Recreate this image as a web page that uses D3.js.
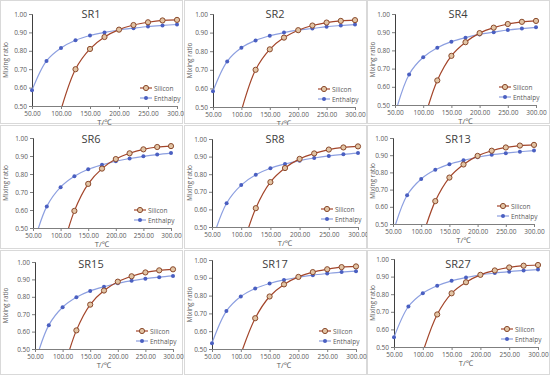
<!DOCTYPE html>
<html><head><meta charset="utf-8">
<script src="https://cdn.jsdelivr.net/npm/d3@7"></script>
<style>body{margin:0;background:#fff}svg{display:block}</style>
</head><body>
<script>
// ---- data ----
const panelNames = ["SR1","SR2","SR4","SR6","SR8","SR13","SR15","SR17","SR27"];
const siliconT = [100,125,150,175,200,225,250,275,300];
const enthalpyT = [50,75,100,125,150,175,200,225,250,275,300];
const silicon = {
  SR1:  [0.48,0.700,0.810,0.875,0.915,0.940,0.955,0.965,0.968],
  SR2:  [0.48,0.700,0.810,0.873,0.913,0.938,0.954,0.963,0.967],
  SR4:  [0.40,0.635,0.770,0.845,0.895,0.925,0.945,0.957,0.962],
  SR6:  [0.34,0.595,0.745,0.830,0.883,0.915,0.937,0.950,0.955],
  SR8:  [0.36,0.607,0.755,0.835,0.887,0.918,0.940,0.952,0.958],
  SR13: [0.40,0.633,0.770,0.846,0.896,0.926,0.945,0.956,0.960],
  SR15: [0.36,0.607,0.755,0.836,0.887,0.918,0.940,0.952,0.958],
  SR17: [0.47,0.673,0.795,0.863,0.905,0.932,0.948,0.960,0.964],
  SR27: [0.47,0.685,0.805,0.868,0.910,0.935,0.952,0.962,0.966]
};
const enthalpy = {
  SR1:  [0.585,0.745,0.815,0.857,0.883,0.900,0.913,0.923,0.932,0.938,0.943],
  SR2:  [0.585,0.745,0.818,0.858,0.883,0.900,0.913,0.922,0.932,0.938,0.943],
  SR4:  [0.45,0.668,0.762,0.815,0.848,0.870,0.888,0.900,0.912,0.920,0.927],
  SR6:  [0.40,0.620,0.727,0.787,0.826,0.851,0.871,0.886,0.898,0.908,0.916],
  SR8:  [0.42,0.635,0.738,0.797,0.834,0.858,0.877,0.892,0.904,0.913,0.920],
  SR13: [0.45,0.667,0.762,0.815,0.848,0.870,0.888,0.902,0.912,0.920,0.927],
  SR15: [0.42,0.637,0.740,0.797,0.834,0.858,0.878,0.892,0.904,0.913,0.920],
  SR17: [0.533,0.713,0.795,0.840,0.868,0.888,0.903,0.915,0.924,0.932,0.937],
  SR27: [0.555,0.730,0.806,0.848,0.876,0.895,0.910,0.920,0.928,0.935,0.940]
};
const xTicks = [50,100,150,200,250,300];
const yTicks = [0.5,0.6,0.7,0.8,0.9,1.0];
const seriesNames = ["Silicon","Enthalpy"];

// ---- layout (panel frame + plot rect) ----
const frames = [
  [0,0,182,123],[184,0,182,123],[367,0,182,123],
  [0,125,182,123],[184,125,182,123],[367,125,182,123],
  [0,250,182,124],[184,250,182,124],[367,250,182,124]
];
const plots = [ // left, top, right, bottom (absolute)
  [32,14,177,106],[213,14,355,107],[395,14,536,105],
  [33,138,171,228],[212,139,358,227],[393,138,534,224],
  [35,262,173,349],[212,260,356,349],[394,259,538,347]
];

const W=550,H=375;
const svg=d3.select("body").append("svg").attr("width",W).attr("height",H);
const font="'Open Sans', 'Noto Sans', sans-serif";
const silLine="#a3452a", silFill="#e2c4a4", silStroke="#8a4a2c";
const entLine="#8c9fe0", entDot="#4a5fc1";
const axisCol="#7f7f7f", textCol="#595959";

panelNames.forEach((name,i)=>{
  const [fx,fy,fw,fh]=frames[i];
  const [l,t,r,b]=plots[i];
  const g=svg.append("g");
  g.append("rect").attr("x",fx+0.5).attr("y",fy+0.5).attr("width",fw).attr("height",fh)
    .attr("fill","#fff").attr("stroke","#d9d9d9").attr("stroke-width",1);
  const x=d3.scaleLinear().domain([50,300]).range([l,r]);
  const y=d3.scaleLinear().domain([0.5,1.0]).range([b,t]);
  const clipId="clip"+i;
  g.append("clipPath").attr("id",clipId).append("rect")
    .attr("x",l-4).attr("y",t-4).attr("width",r-l+8).attr("height",b-t+4);

  // axes
  const ya=g.append("g").attr("transform",`translate(${l},0)`)
    .call(d3.axisLeft(y).tickValues(yTicks).tickFormat(d3.format(".2f")).tickSize(3).tickPadding(2));
  const xa=g.append("g").attr("transform",`translate(0,${b})`)
    .call(d3.axisBottom(x).tickValues(xTicks).tickFormat(d3.format(".2f")).tickSize(3).tickPadding(2));
  [ya,xa].forEach(a=>{
    a.selectAll("path,line").attr("stroke",axisCol);
    a.selectAll("text").attr("fill",textCol).style("font-family",font).style("font-size","6.5px");
  });
  ya.select(".domain").attr("stroke","#404040");

  // title
  g.append("text").attr("x",fx+fw/2).attr("y",fy+18).attr("text-anchor","middle")
    .style("font-family",font).style("font-size","11px").attr("fill","#404040").text(name);
  // axis titles
  g.append("text").attr("transform",`translate(${fx+8},${(t+b)/2}) rotate(-90)`)
    .attr("text-anchor","middle").style("font-family",font).style("font-size","6.5px")
    .attr("fill",textCol).text("Mixing ratio");
  g.append("text").attr("x",(l+r)/2).attr("y",b+19).attr("text-anchor","middle")
    .style("font-family",font).style("font-size","7.5px").attr("fill",textCol).text("T/℃");

  const pg=g.append("g").attr("clip-path",`url(#${clipId})`);
  const line=d3.line().curve(d3.curveCatmullRom.alpha(0.5)).x(d=>x(d[0])).y(d=>y(d[1]));
  const ent=enthalpyT.map((tt,k)=>[tt,enthalpy[name][k]]);
  const sil=siliconT.map((tt,k)=>[tt,silicon[name][k]]);
  pg.append("path").datum(ent).attr("d",line).attr("fill","none").attr("stroke",entLine).attr("stroke-width",1.2);
  pg.append("path").datum(sil).attr("d",line).attr("fill","none").attr("stroke",silLine).attr("stroke-width",1.2);
  pg.selectAll(".ed").data(ent.filter(d=>d[1]>=0.5)).join("circle")
    .attr("cx",d=>x(d[0])).attr("cy",d=>y(d[1])).attr("r",2).attr("fill",entDot);
  pg.selectAll(".sd").data(sil.filter(d=>d[1]>=0.5)).join("circle")
    .attr("cx",d=>x(d[0])).attr("cy",d=>y(d[1])).attr("r",2.6)
    .attr("fill",silFill).attr("stroke",silStroke).attr("stroke-width",1);

  // legend
  seriesNames.forEach((s,k)=>{
    const ly=b-18+k*10, lx0=r-37, lx1=r-25;
    g.append("line").attr("x1",lx0).attr("x2",lx1).attr("y1",ly).attr("y2",ly)
      .attr("stroke",k===0?silLine:entLine).attr("stroke-width",1.2);
    if(k===0) g.append("circle").attr("cx",(lx0+lx1)/2).attr("cy",ly).attr("r",2.6)
      .attr("fill",silFill).attr("stroke",silStroke);
    else g.append("circle").attr("cx",(lx0+lx1)/2).attr("cy",ly).attr("r",2).attr("fill",entDot);
    g.append("text").attr("x",lx1+2).attr("y",ly+2.5).style("font-family",font)
      .style("font-size","6.5px").attr("fill",textCol).text(s);
  });
});
</script>
</body></html>
